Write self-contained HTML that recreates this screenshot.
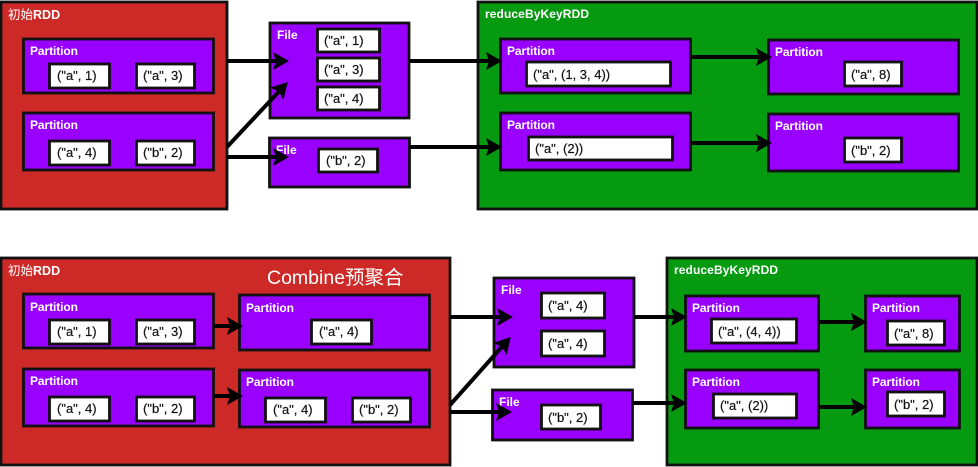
<!DOCTYPE html>
<html lang="zh">
<head>
<meta charset="utf-8">
<title>reduceByKey with and without Combine</title>
<style>
html,body{margin:0;padding:0;background:#fff;width:978px;height:467px;overflow:hidden}
svg{display:block}
text{font-family:"Liberation Sans","Noto Sans CJK SC",sans-serif}
.rdd{stroke:#111;stroke-width:2.8}
.red{fill:#cd2a27}
.green{fill:#059a10}
.p{fill:#9900ff;stroke:#111;stroke-width:2.8}
.b{fill:#fff;stroke:#111;stroke-width:2.8}
.l{fill:#fff;font-size:12px;font-weight:bold}
.v{fill:#111;font-size:13px;stroke:#111;stroke-width:.2}
.a{stroke:#000;stroke-width:4;fill:none;marker-end:url(#head)}
</style>
</head>
<body>
<svg xmlns="http://www.w3.org/2000/svg" width="978" height="467" viewBox="0 0 978 467">
<defs><marker id="head" markerUnits="userSpaceOnUse" markerWidth="17" markerHeight="18" refX="12" refY="9" orient="auto"><path d="M0,0 L16,9 L0,18 L3,9 Z" fill="#000"/></marker></defs>

<g>
<g>
<rect class="rdd red" x="1" y="2" width="226" height="207"/>
<text class="l" x="8" y="19" style="font-size:12.5px;font-weight:normal">初始<tspan font-weight="bold">RDD</tspan></text>
<rect class="p" x="23.5" y="39" width="190" height="54"/>
<text class="l" x="30" y="55" textLength="48">Partition</text>
<rect class="b" x="49.5" y="64" width="60" height="24"/>
<text class="v" x="57" y="80">("a", 1)</text>
<rect class="b" x="136.5" y="64" width="58" height="24"/>
<text class="v" x="143" y="80">("a", 3)</text>
<rect class="p" x="23.5" y="113" width="190" height="57"/>
<text class="l" x="30" y="129" textLength="48">Partition</text>
<rect class="b" x="49.5" y="141" width="60" height="24"/>
<text class="v" x="57" y="157">("a", 4)</text>
<rect class="b" x="136.5" y="141" width="58" height="24"/>
<text class="v" x="143" y="157">("b", 2)</text>
</g>
<g>
<rect class="p" x="270" y="23" width="139" height="95"/>
<text class="l" x="277" y="39">File</text>
<rect class="b" x="317.5" y="29" width="62" height="23"/>
<text class="v" x="324" y="45">("a", 1)</text>
<rect class="b" x="317.5" y="58" width="62" height="23"/>
<text class="v" x="324" y="74">("a", 3)</text>
<rect class="b" x="317.5" y="87" width="62" height="23"/>
<text class="v" x="324" y="103">("a", 4)</text>
<rect class="p" x="269.5" y="138" width="140" height="49"/>
<text class="l" x="276" y="154">File</text>
<rect class="b" x="318.5" y="149" width="59" height="23"/>
<text class="v" x="326" y="165">("b", 2)</text>
</g>
<g>
<rect class="rdd green" x="478" y="2" width="499" height="207"/>
<text class="l" x="485" y="18" textLength="104">reduceByKeyRDD</text>
<rect class="p" x="500.5" y="39" width="190" height="54"/>
<text class="l" x="507" y="55" textLength="48">Partition</text>
<rect class="b" x="526.5" y="62" width="144" height="24"/>
<text class="v" x="533" y="79">("a", (1, 3, 4))</text>
<rect class="p" x="500.5" y="113" width="190" height="57"/>
<text class="l" x="507" y="129" textLength="48">Partition</text>
<rect class="b" x="528.5" y="137" width="144" height="23"/>
<text class="v" x="535" y="153">("a", (2))</text>
<rect class="p" x="768.5" y="40" width="190" height="54"/>
<text class="l" x="775" y="56" textLength="48">Partition</text>
<rect class="b" x="844.5" y="62" width="57" height="24"/>
<text class="v" x="851" y="79">("a", 8)</text>
<rect class="p" x="768.5" y="114" width="190" height="57"/>
<text class="l" x="775" y="130" textLength="48">Partition</text>
<rect class="b" x="844.5" y="138" width="57" height="24"/>
<text class="v" x="851" y="155">("b", 2)</text>
</g>
<g>
<line class="a" x1="227" y1="61" x2="285" y2="61"/>
<line class="a" x1="227" y1="147" x2="285" y2="85"/>
<line class="a" x1="227" y1="157" x2="285" y2="157"/>
<line class="a" x1="409" y1="61" x2="498" y2="61"/>
<line class="a" x1="409" y1="147" x2="498" y2="147"/>
<line class="a" x1="691" y1="57" x2="768" y2="57"/>
<line class="a" x1="691" y1="143" x2="768" y2="143"/>
</g>
</g>

<g>
<g>
<rect class="rdd red" x="1" y="258" width="449" height="207"/>
<text class="l" x="8" y="275" style="font-size:12.5px;font-weight:normal">初始<tspan font-weight="bold">RDD</tspan></text>
<text x="267" y="284" fill="#fff" font-size="19.5">Combine预聚合</text>
<rect class="p" x="23.5" y="294" width="190" height="54"/>
<text class="l" x="30" y="311" textLength="48">Partition</text>
<rect class="b" x="49.5" y="320" width="60" height="24"/>
<text class="v" x="57" y="336">("a", 1)</text>
<rect class="b" x="136.5" y="320" width="58" height="24"/>
<text class="v" x="143" y="336">("a", 3)</text>
<rect class="p" x="23.5" y="369" width="190" height="57"/>
<text class="l" x="30" y="385" textLength="48">Partition</text>
<rect class="b" x="49.5" y="397" width="60" height="24"/>
<text class="v" x="57" y="413">("a", 4)</text>
<rect class="b" x="136.5" y="397" width="58" height="24"/>
<text class="v" x="143" y="413">("b", 2)</text>
<rect class="p" x="239.5" y="295" width="190" height="55"/>
<text class="l" x="246" y="312" textLength="48">Partition</text>
<rect class="b" x="311.5" y="320" width="60" height="24"/>
<text class="v" x="319" y="336">("a", 4)</text>
<rect class="p" x="239.5" y="370" width="190" height="57"/>
<text class="l" x="246" y="386" textLength="48">Partition</text>
<rect class="b" x="265.5" y="398" width="60" height="24"/>
<text class="v" x="273" y="414">("a", 4)</text>
<rect class="b" x="352.5" y="398" width="58" height="24"/>
<text class="v" x="359" y="414">("b", 2)</text>
</g>
<g>
<rect class="p" x="494" y="278" width="140" height="89"/>
<text class="l" x="501" y="294">File</text>
<rect class="b" x="541.5" y="293" width="63" height="25"/>
<text class="v" x="548" y="310">("a", 4)</text>
<rect class="b" x="541.5" y="331" width="63" height="25"/>
<text class="v" x="548" y="348">("a", 4)</text>
<rect class="p" x="492.5" y="390" width="140" height="50"/>
<text class="l" x="499" y="406">File</text>
<rect class="b" x="541.5" y="405" width="59" height="24"/>
<text class="v" x="548" y="422">("b", 2)</text>
</g>
<g>
<rect class="rdd green" x="667" y="258" width="310" height="207"/>
<text class="l" x="674" y="274" textLength="104">reduceByKeyRDD</text>
<rect class="p" x="685.5" y="296" width="133" height="55"/>
<text class="l" x="692" y="312" textLength="48">Partition</text>
<rect class="b" x="711.5" y="319" width="85" height="24"/>
<text class="v" x="718" y="336">("a", (4, 4))</text>
<rect class="p" x="685.5" y="370" width="133" height="58"/>
<text class="l" x="692" y="386" textLength="48">Partition</text>
<rect class="b" x="713.5" y="394" width="83" height="24"/>
<text class="v" x="720" y="410">("a", (2))</text>
<rect class="p" x="865.5" y="296" width="94" height="55"/>
<text class="l" x="872" y="312" textLength="48">Partition</text>
<rect class="b" x="887.5" y="321" width="57" height="24"/>
<text class="v" x="894" y="338">("a", 8)</text>
<rect class="p" x="865.5" y="370" width="94" height="58"/>
<text class="l" x="872" y="386" textLength="48">Partition</text>
<rect class="b" x="887.5" y="392" width="57" height="24"/>
<text class="v" x="894" y="409">("b", 2)</text>
</g>
<g>
<line class="a" x1="214" y1="326" x2="239" y2="326"/>
<line class="a" x1="214" y1="396" x2="239" y2="396"/>
<line class="a" x1="450" y1="317" x2="509" y2="317"/>
<line class="a" x1="450" y1="405" x2="508" y2="340"/>
<line class="a" x1="450" y1="412" x2="508" y2="412"/>
<line class="a" x1="634" y1="317" x2="683" y2="317"/>
<line class="a" x1="633" y1="403" x2="683" y2="403"/>
<line class="a" x1="819" y1="322" x2="863" y2="322"/>
<line class="a" x1="819" y1="407" x2="863" y2="407"/>
</g>
</g>
</svg>
</body>
</html>
